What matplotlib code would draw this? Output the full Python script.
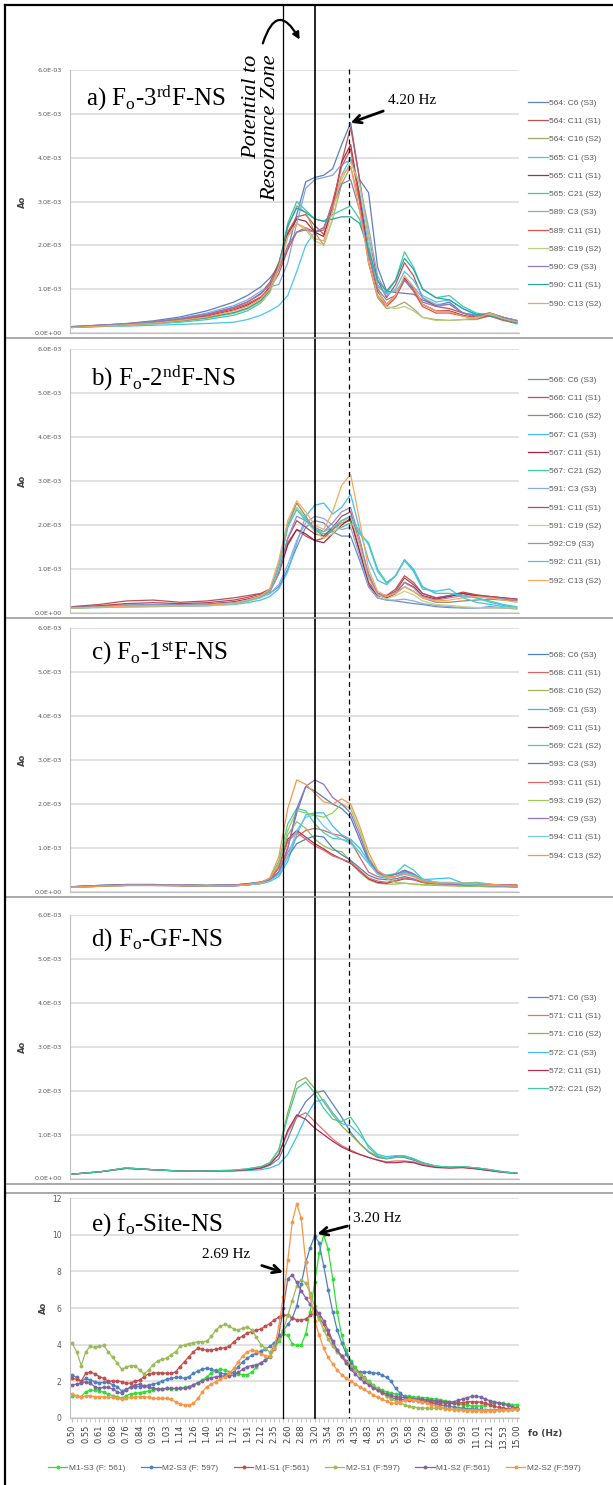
import matplotlib
matplotlib.use('Agg')
import matplotlib.pyplot as plt
from matplotlib.lines import Line2D
from matplotlib.patches import FancyArrowPatch
from matplotlib.ticker import FixedLocator, NullFormatter, NullLocator, FuncFormatter
import matplotlib.transforms as mtransforms

plt.rcParams['mathtext.fontset'] = 'custom'
plt.rcParams['mathtext.rm'] = 'Liberation Serif'
plt.rcParams['mathtext.it'] = 'Liberation Serif:italic'
plt.rcParams['mathtext.bf'] = 'Liberation Serif:bold'

# ---------------- DATA ----------------
# sampled frequencies (Hz) for the building-response panels a-d
FREQ_UP = [0.50, 0.614, 0.755, 0.928, 1.141, 1.402, 1.722, 1.909, 2.117, 2.267, 2.428, 2.601,
           2.786, 2.984, 3.197, 3.424, 3.668, 3.928, 4.208, 4.507, 4.828, 5.171, 5.539, 5.933,
           6.355, 6.806, 7.291, 8.082, 8.959, 9.932, 11.01, 12.21, 13.53, 15.00]

# full frequency grid of panel e (Hz)
FREQ = [0.500, 0.5175, 0.5356, 0.5543, 0.5737, 0.5937, 0.6145, 0.6360, 0.6582, 0.6812,
        0.7050, 0.7297, 0.7552, 0.7816, 0.8089, 0.8372, 0.8664, 0.8967, 0.9281, 0.9605,
        0.9941, 1.0288, 1.0648, 1.1020, 1.1405, 1.1804, 1.2216, 1.2643, 1.3085, 1.3542,
        1.4016, 1.4506, 1.5013, 1.5537, 1.6080, 1.6642, 1.7224, 1.7826, 1.8449, 1.9094,
        1.9761, 2.0452, 2.1167, 2.1906, 2.2672, 2.3464, 2.4284, 2.5133, 2.6012, 2.6921,
        2.7862, 2.8836, 2.9843, 3.0886, 3.1966, 3.3083, 3.4239, 3.5436, 3.6675, 3.7956,
        3.9283, 4.0656, 4.2077, 4.3547, 4.5069, 4.6645, 4.8275, 4.9962, 5.1708, 5.3515,
        5.5386, 5.7322, 5.9325, 6.1399, 6.3545, 6.5765, 6.8064, 7.0443, 7.2905, 7.5453,
        7.8090, 8.0820, 8.3644, 8.6568, 8.9593, 9.2725, 9.5965, 9.9319, 10.279, 10.638,
        11.010, 11.395, 11.793, 12.206, 12.632, 13.074, 13.531, 14.004, 14.493, 15.000]

TICK_FREQ = FREQ[::3]
TICK_LABELS = ['0.50', '0.55', '0.61', '0.68', '0.76', '0.84', '0.93', '1.03', '1.14', '1.26',
               '1.40', '1.55', '1.72', '1.91', '2.12', '2.35', '2.60', '2.88', '3.20', '3.54',
               '3.93', '4.35', '4.83', '5.35', '5.93', '6.58', '7.29', '8.08', '8.96', '9.93',
               '11.01', '12.21', '13.53', '15.00']

# Panel a (values x 1E-03)
LABELS_A = ['564: C6 (S3)', '564: C11 (S1)', '564: C16 (S2)', '565: C1 (S3)', '565: C11 (S1)',
            '565: C21 (S2)', '589: C3 (S3)', '589: C11 (S1)', '589: C19 (S2)', '590: C9 (S3)',
            '590: C11 (S1)', '590: C13 (S2)']
A01 = [0.14,0.17,0.21,0.27,0.36,0.50,0.70,0.85,1.05,1.25,1.50,1.90,2.70,3.45,3.55,3.60,3.75,4.30,4.80,3.50,3.20,1.50,0.95,0.92,0.90,0.88,0.75,0.62,0.70,0.45,0.40,0.45,0.35,0.28]
A02 = [0.13,0.17,0.20,0.25,0.32,0.42,0.58,0.70,0.90,1.15,1.60,2.30,2.65,2.70,2.45,2.25,2.80,3.90,4.70,3.50,2.20,1.20,0.80,1.10,1.60,1.30,0.80,0.60,0.55,0.45,0.35,0.40,0.30,0.25]
A03 = [0.12,0.15,0.18,0.22,0.27,0.35,0.45,0.55,0.72,0.95,1.50,2.40,2.90,2.75,2.30,2.00,2.60,3.40,3.80,3.00,1.60,0.80,0.55,0.60,0.70,0.55,0.35,0.30,0.28,0.30,0.30,0.40,0.30,0.22]
A04 = [0.12,0.14,0.15,0.17,0.19,0.21,0.24,0.30,0.40,0.50,0.62,0.85,1.40,2.00,2.30,2.40,2.90,3.60,4.00,3.20,2.00,1.10,0.85,1.00,1.40,1.20,0.85,0.70,0.75,0.55,0.40,0.45,0.35,0.28]
A05 = [0.13,0.16,0.19,0.23,0.30,0.38,0.52,0.63,0.80,1.05,1.55,2.25,2.60,2.55,2.30,2.20,2.90,3.90,4.30,3.10,1.80,0.95,0.65,0.85,1.25,1.00,0.65,0.50,0.50,0.40,0.33,0.40,0.30,0.24]
A06 = [0.12,0.15,0.17,0.20,0.24,0.30,0.40,0.50,0.68,0.92,1.50,2.50,3.00,2.80,2.60,2.55,2.70,2.80,2.90,2.60,1.80,1.05,0.90,1.20,1.85,1.50,1.00,0.80,0.85,0.60,0.45,0.40,0.30,0.20]
A07 = [0.14,0.17,0.20,0.25,0.33,0.45,0.62,0.75,0.95,1.05,1.10,1.60,2.50,3.30,3.50,3.55,3.60,3.85,3.95,3.40,2.40,1.30,0.90,0.95,1.20,1.05,0.80,0.65,0.65,0.45,0.38,0.45,0.35,0.28]
A08 = [0.13,0.16,0.19,0.24,0.30,0.40,0.55,0.66,0.82,1.00,1.35,1.90,2.30,2.40,2.30,2.35,3.00,3.80,4.20,3.00,1.60,0.85,0.60,0.80,1.20,0.95,0.60,0.45,0.45,0.38,0.32,0.38,0.28,0.22]
A09 = [0.12,0.14,0.17,0.21,0.26,0.33,0.44,0.54,0.70,0.92,1.45,2.20,2.50,2.35,2.10,2.00,2.60,3.50,3.90,3.40,2.20,1.00,0.60,0.55,0.60,0.50,0.35,0.28,0.28,0.30,0.35,0.42,0.32,0.22]
A10 = [0.14,0.17,0.20,0.25,0.32,0.42,0.58,0.70,0.88,1.10,1.45,2.00,2.30,2.35,2.30,2.40,2.90,3.40,3.50,2.80,1.80,1.00,0.75,0.85,1.20,1.00,0.70,0.60,0.65,0.45,0.38,0.45,0.35,0.27]
A11 = [0.12,0.15,0.18,0.22,0.27,0.34,0.46,0.56,0.74,0.98,1.55,2.45,2.85,2.75,2.60,2.55,2.60,2.65,2.65,2.50,1.90,1.20,0.95,1.20,1.70,1.45,1.00,0.80,0.75,0.55,0.42,0.38,0.30,0.22]
A12 = [0.12,0.15,0.18,0.22,0.28,0.36,0.50,0.60,0.78,1.00,1.50,2.20,2.50,2.40,2.15,2.10,2.80,3.60,3.80,2.80,1.60,0.85,0.65,0.85,1.30,1.05,0.65,0.50,0.48,0.38,0.32,0.45,0.32,0.25]

# Panel b
LABELS_B = ['566: C6 (S3)', '566: C11 (S1)', '566: C16 (S2)', '567: C1 (S3)', '567: C11 (S1)',
            '567: C21 (S2)', '591: C3 (S3)', '591: C11 (S1)', '591: C19 (S2)', '592:C9 (S3)',
            '592: C11 (S1)', '592: C13 (S2)']
B01 = [0.15,0.17,0.19,0.20,0.20,0.21,0.25,0.30,0.38,0.45,0.60,1.00,1.50,1.95,2.10,2.05,1.85,1.75,1.75,1.20,0.60,0.35,0.30,0.28,0.25,0.22,0.20,0.15,0.13,0.12,0.12,0.15,0.12,0.10]
B02 = [0.15,0.20,0.28,0.30,0.25,0.28,0.35,0.40,0.45,0.55,0.95,1.60,1.90,1.75,1.65,1.70,1.90,2.05,2.10,1.40,0.70,0.45,0.40,0.55,0.85,0.70,0.45,0.35,0.40,0.45,0.40,0.35,0.32,0.30]
B03 = [0.12,0.14,0.16,0.17,0.17,0.18,0.22,0.28,0.36,0.48,1.00,2.00,2.50,2.20,1.90,1.75,1.90,2.10,2.20,1.60,0.90,0.45,0.35,0.45,0.60,0.50,0.35,0.25,0.25,0.28,0.30,0.32,0.30,0.28]
B04 = [0.12,0.13,0.14,0.15,0.16,0.17,0.20,0.24,0.30,0.38,0.55,0.95,1.60,2.20,2.45,2.50,2.25,2.40,2.70,1.90,1.20,0.75,0.65,0.85,1.20,0.95,0.55,0.50,0.55,0.35,0.25,0.20,0.15,0.12]
B05 = [0.13,0.15,0.17,0.18,0.18,0.20,0.26,0.32,0.40,0.50,0.90,1.55,1.90,1.80,1.65,1.60,1.80,2.00,2.15,1.40,0.65,0.40,0.35,0.45,0.70,0.60,0.40,0.32,0.38,0.45,0.40,0.38,0.35,0.32]
B06 = [0.12,0.14,0.16,0.17,0.17,0.18,0.23,0.29,0.38,0.50,1.10,2.00,2.40,2.15,1.90,1.80,1.85,1.95,2.05,1.80,1.60,1.00,0.70,0.85,1.20,1.00,0.60,0.45,0.45,0.40,0.35,0.25,0.18,0.12]
B07 = [0.14,0.16,0.18,0.19,0.19,0.20,0.24,0.29,0.36,0.44,0.65,1.10,1.65,2.05,2.20,2.15,2.00,1.90,1.95,1.30,0.60,0.35,0.30,0.30,0.32,0.28,0.22,0.18,0.15,0.13,0.12,0.12,0.12,0.12]
B08 = [0.14,0.17,0.22,0.24,0.22,0.24,0.30,0.36,0.44,0.54,0.95,1.70,2.10,1.95,1.80,1.75,1.95,2.20,2.30,1.55,0.80,0.45,0.40,0.50,0.80,0.65,0.45,0.35,0.40,0.48,0.42,0.38,0.35,0.32]
B09 = [0.12,0.13,0.15,0.16,0.16,0.17,0.21,0.27,0.35,0.47,1.00,1.95,2.40,2.10,1.85,1.70,1.80,2.05,2.20,1.55,0.80,0.42,0.33,0.40,0.50,0.42,0.28,0.20,0.18,0.15,0.13,0.12,0.12,0.12]
B10 = [0.13,0.15,0.17,0.18,0.18,0.19,0.24,0.30,0.38,0.48,0.90,1.70,2.20,2.10,1.95,1.85,2.05,2.30,2.40,1.70,0.85,0.45,0.38,0.48,0.70,0.58,0.38,0.30,0.35,0.40,0.38,0.35,0.33,0.30]
B11 = [0.12,0.14,0.16,0.17,0.17,0.18,0.22,0.28,0.37,0.50,1.05,1.95,2.35,2.10,1.90,1.85,1.95,2.10,2.20,1.85,1.55,0.95,0.68,0.85,1.22,1.00,0.60,0.45,0.45,0.40,0.35,0.28,0.20,0.15]
B12 = [0.12,0.14,0.16,0.17,0.17,0.18,0.23,0.30,0.40,0.55,1.20,2.10,2.55,2.30,2.00,1.90,2.30,2.90,3.15,2.10,1.00,0.50,0.38,0.45,0.60,0.50,0.35,0.28,0.30,0.35,0.38,0.35,0.30,0.25]

# Panel c
LABELS_C = ['568: C6 (S3)', '568: C11 (S1)', '568: C16 (S2)', '569: C1 (S3)', '569: C11 (S1)',
            '569: C21 (S2)', '593: C3 (S3)', '593: C11 (S1)', '593: C19 (S2)', '594: C9 (S3)',
            '594: C11 (S1)', '594: C13 (S2)']
C01 = [0.12,0.15,0.17,0.17,0.16,0.15,0.16,0.18,0.22,0.28,0.45,1.00,1.80,2.40,2.30,2.15,2.00,1.90,1.70,1.20,0.70,0.45,0.38,0.40,0.48,0.40,0.28,0.20,0.18,0.16,0.15,0.14,0.13,0.12]
C02 = [0.12,0.14,0.16,0.16,0.15,0.14,0.15,0.17,0.21,0.27,0.45,0.90,1.25,1.40,1.45,1.40,1.32,1.28,1.15,0.80,0.45,0.35,0.32,0.35,0.45,0.38,0.28,0.22,0.20,0.18,0.16,0.15,0.14,0.13]
C03 = [0.11,0.14,0.17,0.17,0.16,0.15,0.16,0.18,0.22,0.30,0.60,1.30,1.60,1.45,1.20,1.05,0.95,0.92,0.70,0.45,0.28,0.20,0.18,0.18,0.20,0.18,0.16,0.15,0.14,0.13,0.13,0.12,0.12,0.11]
C04 = [0.11,0.13,0.15,0.15,0.15,0.14,0.14,0.16,0.19,0.24,0.35,0.70,1.30,1.75,1.80,1.80,1.50,1.30,1.20,1.00,0.70,0.45,0.32,0.35,0.45,0.38,0.28,0.30,0.32,0.20,0.17,0.15,0.14,0.13]
C05 = [0.11,0.13,0.15,0.15,0.14,0.13,0.14,0.16,0.20,0.27,0.55,1.20,1.40,1.25,1.10,0.98,0.85,0.75,0.65,0.48,0.30,0.22,0.20,0.25,0.30,0.28,0.22,0.18,0.16,0.15,0.15,0.15,0.16,0.16]
C06 = [0.11,0.13,0.15,0.15,0.15,0.14,0.15,0.17,0.21,0.30,0.70,1.55,1.90,1.85,1.55,1.35,1.22,1.20,1.15,0.90,0.65,0.42,0.38,0.42,0.62,0.50,0.30,0.22,0.20,0.20,0.22,0.18,0.15,0.12]
C07 = [0.12,0.15,0.17,0.17,0.16,0.15,0.16,0.19,0.23,0.28,0.40,0.80,1.10,1.20,1.28,1.25,1.00,0.85,0.72,0.55,0.38,0.30,0.28,0.30,0.35,0.30,0.22,0.18,0.16,0.15,0.14,0.14,0.13,0.12]
C08 = [0.12,0.14,0.16,0.16,0.15,0.14,0.15,0.17,0.21,0.28,0.55,1.15,1.35,1.20,1.05,0.95,0.82,0.75,0.68,0.50,0.32,0.25,0.22,0.26,0.32,0.28,0.22,0.18,0.17,0.16,0.16,0.16,0.16,0.15]
C09 = [0.11,0.13,0.15,0.15,0.15,0.14,0.15,0.17,0.21,0.30,0.65,1.40,1.85,1.80,1.75,1.70,1.80,2.00,1.90,1.40,0.80,0.45,0.30,0.22,0.20,0.18,0.17,0.16,0.15,0.14,0.13,0.12,0.12,0.11]
C10 = [0.12,0.14,0.16,0.16,0.16,0.15,0.16,0.18,0.22,0.28,0.45,1.00,1.90,2.40,2.55,2.45,2.15,2.00,1.80,1.30,0.75,0.45,0.35,0.40,0.50,0.42,0.28,0.20,0.18,0.16,0.15,0.14,0.13,0.12]
C11 = [0.11,0.13,0.15,0.15,0.15,0.14,0.14,0.16,0.19,0.25,0.40,0.80,1.40,1.70,1.75,1.50,1.32,1.20,1.10,0.90,0.65,0.40,0.32,0.35,0.42,0.38,0.28,0.22,0.22,0.18,0.16,0.15,0.14,0.13]
C12 = [0.11,0.13,0.15,0.15,0.15,0.14,0.15,0.17,0.22,0.32,0.80,1.90,2.55,2.45,2.25,2.05,2.00,2.12,2.00,1.50,0.90,0.50,0.35,0.35,0.40,0.35,0.25,0.20,0.20,0.20,0.20,0.18,0.15,0.13]

# Panel d
LABELS_D = ['571: C6 (S3)', '571: C11 (S1)', '571: C16 (S2)', '572: C1 (S3)', '572: C11 (S1)',
            '572: C21 (S2)']
D01 = [0.10,0.15,0.24,0.20,0.17,0.17,0.18,0.20,0.23,0.30,0.45,0.90,1.40,1.75,1.95,2.00,1.70,1.40,1.05,0.80,0.60,0.48,0.45,0.50,0.48,0.42,0.35,0.28,0.25,0.26,0.24,0.20,0.15,0.12]
D02 = [0.10,0.15,0.23,0.20,0.17,0.17,0.18,0.20,0.24,0.32,0.55,1.05,1.40,1.50,1.30,1.10,0.90,0.75,0.65,0.55,0.48,0.42,0.38,0.40,0.40,0.38,0.32,0.26,0.24,0.25,0.22,0.18,0.14,0.12]
D03 = [0.10,0.15,0.24,0.20,0.17,0.17,0.19,0.22,0.27,0.36,0.65,1.50,2.20,2.30,2.05,1.75,1.45,1.20,1.00,0.80,0.62,0.50,0.45,0.48,0.50,0.45,0.36,0.28,0.26,0.27,0.24,0.20,0.15,0.12]
D04 = [0.10,0.15,0.24,0.20,0.17,0.16,0.17,0.18,0.20,0.24,0.32,0.55,0.95,1.40,1.75,1.80,1.50,1.25,1.20,1.00,0.75,0.55,0.50,0.52,0.52,0.45,0.36,0.28,0.25,0.26,0.24,0.20,0.15,0.12]
D05 = [0.10,0.15,0.23,0.20,0.17,0.17,0.18,0.20,0.24,0.32,0.55,1.10,1.45,1.35,1.15,1.00,0.85,0.72,0.62,0.55,0.48,0.42,0.36,0.36,0.38,0.36,0.30,0.25,0.24,0.25,0.22,0.18,0.14,0.12]
D06 = [0.10,0.15,0.24,0.20,0.17,0.17,0.19,0.22,0.27,0.36,0.65,1.40,2.05,2.20,1.95,1.60,1.35,1.30,1.40,1.10,0.70,0.52,0.46,0.48,0.50,0.45,0.36,0.28,0.26,0.27,0.24,0.20,0.15,0.12]

# Panel e (site amplification)
LABELS_E = ['M1-S3 (F: 561)', 'M2-S3 (F: 597)', 'M1-S1 (F:561)', 'M2-S1 (F:597)',
            'M1-S2 (F:561)', 'M2-S2 (F:597)']
M1_S3 = [1.2,1.19,1.15,1.42,1.51,1.51,1.48,1.39,1.3,1.2,
         1.15,1.06,1.2,1.3,1.33,1.37,1.42,1.46,1.51,1.55,
         1.57,1.6,1.59,1.59,1.6,1.66,1.7,1.79,1.92,2.06,
         2.24,2.46,2.6,2.65,2.6,2.52,2.43,2.4,2.35,2.35,
         2.5,2.75,3.0,3.15,3.3,3.75,4.2,4.6,4.5,4.05,
         3.95,3.98,4.6,5.8,7.4,9.0,10.0,9.2,7.6,5.8,
         4.5,3.7,3.1,2.75,2.45,2.2,2.0,1.8,1.6,1.5,
         1.42,1.35,1.3,1.25,1.2,1.17,1.14,1.12,1.1,1.08,
         1.05,1.02,0.98,0.93,0.88,0.82,0.76,0.72,0.68,0.65,
         0.64,0.65,0.7,0.76,0.8,0.8,0.78,0.75,0.72,0.7]
M2_S3 = [2.34,2.2,1.97,2.15,2.06,1.97,1.9,1.93,1.93,1.8,
         1.7,1.46,1.55,1.66,1.7,1.7,1.73,1.79,1.84,1.9,
         2.0,2.1,2.15,2.2,2.2,2.15,2.25,2.43,2.55,2.66,
         2.7,2.66,2.57,2.46,2.37,2.39,2.5,2.8,3.07,3.25,
         3.43,3.52,3.65,3.75,3.9,4.1,4.4,4.75,5.1,5.45,
         6.1,7.3,8.5,9.3,9.95,9.55,8.3,7.0,5.8,4.8,
         4.1,3.5,3.0,2.6,2.5,2.5,2.48,2.46,2.42,2.33,
         2.2,2.0,1.6,1.35,1.15,1.05,0.98,0.92,0.88,0.84,
         0.8,0.75,0.7,0.66,0.62,0.58,0.55,0.52,0.5,0.48,
         0.46,0.45,0.44,0.43,0.43,0.44,0.45,0.46,0.48,0.5]
M1_S1 = [2.15,2.1,2.0,2.43,2.5,2.4,2.25,2.15,2.0,2.0,
         2.0,1.97,1.88,1.9,2.0,2.05,2.25,2.4,2.43,2.46,
         2.45,2.43,2.43,2.5,2.8,3.07,3.34,3.6,3.8,3.74,
         3.7,3.72,3.74,3.8,3.83,3.9,4.16,4.34,4.47,4.65,
         4.7,4.8,4.85,5.0,5.15,5.35,5.5,5.6,5.6,5.45,
         5.35,5.35,5.4,5.6,5.7,5.5,5.1,4.6,4.1,3.7,
         3.4,3.1,2.85,2.6,2.4,2.15,1.9,1.7,1.5,1.35,
         1.2,1.1,1.05,1.0,0.98,0.97,0.95,0.95,0.93,0.9,
         0.88,0.85,0.82,0.8,0.78,0.78,0.8,0.83,0.86,0.88,
         0.88,0.85,0.78,0.7,0.62,0.56,0.52,0.5,0.5,0.5]
M2_S1 = [4.07,3.6,2.85,3.6,3.9,3.85,3.9,3.95,3.6,3.3,
         3.0,2.65,2.75,2.85,2.85,2.6,2.4,2.6,2.9,3.1,
         3.2,3.25,3.45,3.6,3.9,3.98,4.05,4.1,4.15,4.15,
         4.2,4.45,4.8,5.0,5.1,5.0,4.85,4.8,4.9,4.95,
         4.8,4.4,4.0,3.8,3.6,3.9,4.3,4.8,5.6,6.4,
         7.2,7.55,7.35,6.8,6.1,5.4,4.8,4.3,3.9,3.6,
         3.3,3.05,2.85,2.6,2.4,2.15,1.95,1.75,1.55,1.4,
         1.2,1.05,0.9,0.8,0.7,0.62,0.58,0.55,0.53,0.52,
         0.52,0.52,0.52,0.5,0.48,0.46,0.45,0.44,0.43,0.42,
         0.42,0.42,0.42,0.42,0.42,0.42,0.43,0.44,0.45,0.47]
M1_S2 = [1.79,1.84,1.88,1.97,1.88,1.7,1.6,1.66,1.66,1.57,
         1.42,1.33,1.5,1.7,1.79,1.82,1.73,1.66,1.6,1.57,
         1.57,1.6,1.6,1.6,1.6,1.6,1.66,1.79,1.92,2.03,
         2.12,2.19,2.24,2.28,2.28,2.3,2.34,2.48,2.65,2.8,
         2.85,2.88,3.0,3.15,3.35,3.8,4.5,6.0,7.6,7.8,
         7.4,6.95,6.55,6.2,5.9,5.7,5.3,4.8,4.2,3.7,
         3.35,3.0,2.65,2.4,2.15,1.95,1.8,1.65,1.5,1.4,
         1.3,1.22,1.15,1.12,1.1,1.07,1.05,1.02,1.0,0.97,
         0.95,0.92,0.9,0.87,0.85,0.88,0.95,1.03,1.1,1.17,
         1.18,1.12,1.02,0.93,0.87,0.82,0.75,0.67,0.6,0.55]
M2_S2 = [1.3,1.2,1.11,1.2,1.2,1.15,1.15,1.15,1.11,1.11,
         1.06,1.0,1.06,1.11,1.11,1.15,1.15,1.11,1.06,1.06,
         1.06,1.06,1.0,0.88,0.75,0.69,0.69,0.78,1.06,1.42,
         1.7,1.84,1.97,2.12,2.24,2.43,2.7,3.06,3.37,3.6,
         3.7,3.65,3.5,3.4,3.35,3.8,5.0,6.6,8.6,10.7,
         11.7,10.9,8.5,6.6,5.3,4.5,3.8,3.3,2.95,2.6,
         2.35,2.15,2.0,1.85,1.7,1.55,1.4,1.25,1.12,1.0,
         0.9,0.82,0.78,0.85,0.95,1.0,0.98,0.93,0.87,0.8,
         0.72,0.65,0.58,0.52,0.47,0.44,0.42,0.4,0.39,0.38,
         0.38,0.37,0.37,0.38,0.38,0.4,0.42,0.44,0.45,0.45]

# annotation frequencies (Hz)
F_LINE1, F_LINE2, F_DASH = 2.51, 3.20, 4.16

# ---------------- STYLE ----------------
COL_A = ['#5B7FBF', '#C0504D', '#A3A36E', '#4BC3F0', '#A62B4C', '#3CC8A8',
         '#86A5D8', '#E2504C', '#B8CC80', '#8B7BB8', '#2AA3A8', '#F7A05A']
COL_B = ['#6A8CC6', '#C0504D', '#8E8E5C', '#3FC0F0', '#A8203F', '#3ECCA0',
         '#8EA9DB', '#B04A60', '#C4D08A', '#A08BC0', '#4CC4D8', '#F7A860']
COL_C = ['#4F81BD', '#E06262', '#9BBB59', '#33C0F0', '#B03050', '#40D0B0',
         '#4F81BD', '#E06868', '#9ACB59', '#9370C0', '#6FC8E8', '#F79646']
COL_D = ['#6080C0', '#E07070', '#8FB050', '#3FC0F0', '#B03050', '#3ECCA0']
COL_E = ['#33DD33', '#4F81BD', '#C0504D', '#9BBB59', '#8064A2', '#F79646']

W, H = 613, 1485
fig = plt.figure(figsize=(W / 100, H / 100), dpi=100)
fig.patch.set_facecolor('white')

def fx(x):
    return x / W

def fy(y):
    return 1 - y / H

XMIN, XMAX = 0.4915, 15.26
AX_L, AX_R = 70, 519

def make_ax(top, bottom):
    return fig.add_axes([fx(AX_L), fy(bottom), (AX_R - AX_L) / W, (bottom - top) / H])

def base_style(ax):
    ax.set_xscale('log')
    ax.set_xlim(XMIN, XMAX)
    ax.grid(axis='y', color='#D9D9D9', lw=1.1)
    ax.set_axisbelow(True)
    for s in ['top', 'right']:
        ax.spines[s].set_visible(False)
    ax.spines['left'].set_color('#BFBFBF')
    ax.spines['bottom'].set_color('#BFBFBF')

sci_fmt = FuncFormatter(lambda v, p: f'{v:.1E}')

panels = [
    (70.3, 332.7, [A01, A02, A03, A04, A05, A06, A07, A08, A09, A10, A11, A12], LABELS_A, COL_A,
     r'a) F$_{\rm o}$-3$^{\rm rd}$F-NS', 0.867, 0.036, 99),
    (348.6, 613.3, [B01, B02, B03, B04, B05, B06, B07, B08, B09, B10, B11, B12], LABELS_B, COL_B,
     r'b) F$_{\rm o}$-2$^{\rm nd}$F-NS', 0.862, 0.046, 376),
    (628.3, 892.0, [C01, C02, C03, C04, C05, C06, C07, C08, C09, C10, C11, C12], LABELS_C, COL_C,
     r'c) F$_{\rm o}$-1$^{\rm st}$F-NS', 0.88, 0.046, 651),
    (915.3, 1178.5, [D01, D02, D03, D04, D05, D06], LABELS_D, COL_D,
     r'd) F$_{\rm o}$-GF-NS', 0.885, 0.046, 994),
]

for top, bottom, series, labels, cols, title, ty, tx, legtop in panels:
    ax = make_ax(top, bottom)
    base_style(ax)
    for vals, lab, c in zip(series, labels, cols):
        ax.plot(FREQ_UP, [v * 1e-3 for v in vals], color=c, lw=0.9, label=lab)
    ax.set_ylim(0, 6e-3)
    ax.set_yticks([0, 1e-3, 2e-3, 3e-3, 4e-3, 5e-3, 6e-3])
    ax.yaxis.set_major_formatter(sci_fmt)
    ax.tick_params(axis='y', length=0, pad=6, labelsize=4.6, labelcolor='#595959')
    ax.xaxis.set_major_locator(NullLocator())
    ax.xaxis.set_minor_locator(NullLocator())
    ax.set_ylabel('Ao', fontsize=6, fontweight='bold', color='#404040')
    ax.yaxis.set_label_coords((27 - AX_L) / (AX_R - AX_L), 0.5)
    ax.text(tx, ty, title, transform=ax.transAxes, fontsize=18, family='Liberation Serif',
            ha='left', va='baseline')
    h, l = ax.get_legend_handles_labels()
    fig.legend(h, l, loc='upper left', bbox_to_anchor=(fx(528), fy(legtop)),
               bbox_transform=fig.transFigure, frameon=False,
               handlelength=2.4, handletextpad=0.15, labelspacing=1.25, borderpad=0,
               borderaxespad=0, labelcolor='#595959', prop={'family': 'Liberation Sans', 'size': 6})
    if title.startswith('a)'):
        ax_a = ax

# ---- panel e ----
ax_e = make_ax(1198.3, 1417.7)
base_style(ax_e)
for vals, lab, c in zip([M1_S3, M2_S3, M1_S1, M2_S1, M1_S2, M2_S2], LABELS_E, COL_E):
    ax_e.plot(FREQ, vals, color=c, lw=0.9, marker='o', markersize=1.8, label=lab)
ax_e.set_ylim(0, 12)
ax_e.set_yticks(range(0, 13, 2))
ax_e.tick_params(axis='y', length=0, pad=6, labelsize=5.5, labelcolor='#595959')
ax_e.xaxis.set_major_locator(FixedLocator(TICK_FREQ))
ax_e.set_xticklabels(TICK_LABELS)
ax_e.xaxis.set_minor_locator(FixedLocator(FREQ))
ax_e.xaxis.set_minor_formatter(NullFormatter())
ax_e.tick_params(axis='x', which='both', length=3, color='#BFBFBF', pad=2,
                 labelsize=6, labelcolor='#404040', labelrotation=90)
ax_e.set_ylabel('Ao', fontsize=6, fontweight='bold', color='#404040')
ax_e.yaxis.set_label_coords((47.7 - AX_L) / (AX_R - AX_L), 0.5)
ax_e.text(1.02, -0.074, 'fo (Hz)', transform=ax_e.transAxes, fontsize=6.5,
          fontweight='bold', color='#404040', ha='left', va='center')
ax_e.text(0.046, 0.852, r'e) f$_{\rm o}$-Site-NS', transform=ax_e.transAxes, fontsize=18,
          family='Liberation Serif', ha='left', va='baseline')
h, l = ax_e.get_legend_handles_labels()
fig.legend(h, l, loc='center', bbox_to_anchor=(fx(314.5), fy(1468.3)),
           bbox_transform=fig.transFigure, ncol=6, frameon=False,
           handlelength=2.3, handletextpad=0.2, columnspacing=1.9, borderpad=0,
           labelcolor='#595959', prop={'family': 'Liberation Sans', 'size': 6})

# ---- annotations ----
arrow_kw = dict(arrowstyle='->', lw=2.0, color='black', mutation_scale=14)
ax_a.annotate('4.20 Hz', xy=(4.208, 4.8e-3), xytext=(26.6, 15.8), textcoords='offset points',
              ha='left', va='center', fontsize=11, family='Liberation Serif',
              arrowprops=dict(shrinkA=2, shrinkB=0, **arrow_kw))
ax_e.annotate('3.20 Hz', xy=(3.26, 10.05), xytext=(25.6, 11.2), textcoords='offset points',
              ha='left', va='center', fontsize=11, family='Liberation Serif',
              arrowprops=dict(shrinkA=2, shrinkB=0, **arrow_kw))
ax_e.annotate('2.69 Hz', xy=(F_LINE1, 7.95), xytext=(-24, 13.2), textcoords='offset points',
              ha='right', va='center', fontsize=11, family='Liberation Serif',
              arrowprops=dict(shrinkA=7, shrinkB=0, **arrow_kw))

# vertical guide lines spanning all panels
trans = mtransforms.blended_transform_factory(ax_e.transData, fig.transFigure)
y_bot = ax_e.get_position().y0
fig.add_artist(Line2D([F_LINE1, F_LINE1], [fy(5), y_bot], transform=trans, color='black', lw=0.9))
fig.add_artist(Line2D([F_LINE2, F_LINE2], [fy(5), y_bot], transform=trans, color='black', lw=1.2))
fig.add_artist(Line2D([F_DASH, F_DASH], [fy(69), y_bot], transform=trans, color='black', lw=0.9,
                      linestyle=(0, (4, 3))))

# "Potential to Resonance Zone" text and curved arrow
fig.text(fx(261), fy(128), 'Potential to\nResonance Zone', rotation=90, ha='center', va='center',
         multialignment='right', style='italic', family='Liberation Serif', fontsize=16,
         linespacing=1.0)
fig.add_artist(FancyArrowPatch(posA=(fx(262), fy(46)), posB=(fx(301), fy(42)),
                               transform=fig.transFigure, connectionstyle='arc3,rad=-1.2',
                               arrowstyle='-|>', mutation_scale=10, lw=1.6, color='black'))

# panel separators and outer frame
for yy in [337.7, 618.3, 897.0, 1184.0, 1193.0]:
    fig.add_artist(Line2D([fx(5), 1], [fy(yy), fy(yy)], transform=fig.transFigure,
                          color='#9A9A9A', lw=1.2))
fig.add_artist(Line2D([fx(5), fx(5)], [fy(5), 0], transform=fig.transFigure, color='black', lw=1.6))
fig.add_artist(Line2D([fx(5), 1], [fy(5), fy(5)], transform=fig.transFigure, color='black', lw=1.6))

fig.savefig('out.png', dpi=100)
